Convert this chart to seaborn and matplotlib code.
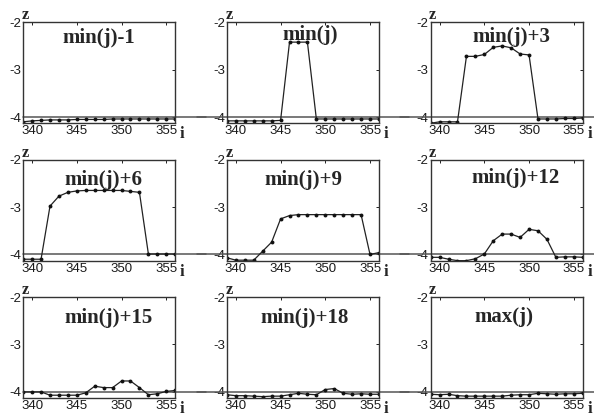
import numpy as np
import pandas as pd
import matplotlib
matplotlib.use("Agg")
import matplotlib.pyplot as plt
import seaborn as sns

# ---- data ----
i_vals = [339, 340, 341, 342, 343, 344, 345, 346, 347, 348, 349, 350, 351, 352, 353, 354, 355, 356]
titles = ["min(j)-1", "min(j)", "min(j)+3", "min(j)+6", "min(j)+9", "min(j)+12",
          "min(j)+15", "min(j)+18", "max(j)"]
z_m1 = [-4.10, -4.08, -4.07, -4.06, -4.06, -4.06, -4.05, -4.05, -4.05, -4.05, -4.04, -4.04, -4.04, -4.04, -4.04, -4.04, -4.04, -4.04]
z_0 = [-4.08, -4.08, -4.08, -4.08, -4.08, -4.08, -4.07, -2.42, -2.42, -2.42, -4.04, -4.04, -4.04, -4.04, -4.04, -4.04, -4.04, -4.04]
z_3 = [-4.13, -4.10, -4.10, -4.10, -2.72, -2.72, -2.68, -2.53, -2.50, -2.54, -2.67, -2.69, -4.04, -4.04, -4.04, -4.03, -4.03, -4.02]
z_6 = [-4.10, -4.10, -4.10, -2.98, -2.77, -2.69, -2.66, -2.65, -2.65, -2.65, -2.65, -2.65, -2.67, -2.69, -3.99, -3.99, -3.99, -3.99]
z_9 = [-4.07, -4.12, -4.12, -4.12, -3.93, -3.74, -3.25, -3.18, -3.16, -3.16, -3.16, -3.16, -3.16, -3.16, -3.16, -3.16, -4.00, -3.96]
z_12 = [-4.06, -4.06, -4.10, -4.13, -4.13, -4.09, -3.99, -3.71, -3.57, -3.57, -3.64, -3.47, -3.50, -3.68, -4.06, -4.05, -4.05, -4.06]
z_15 = [-4.00, -4.00, -4.00, -4.07, -4.07, -4.07, -4.07, -4.02, -3.88, -3.91, -3.91, -3.77, -3.77, -3.91, -4.06, -4.04, -3.99, -3.97]
z_18 = [-4.06, -4.08, -4.08, -4.09, -4.10, -4.09, -4.09, -4.06, -4.03, -4.05, -4.06, -3.95, -3.93, -4.03, -4.05, -4.04, -4.05, -4.05]
z_max = [-4.05, -4.06, -4.05, -4.08, -4.09, -4.09, -4.09, -4.09, -4.09, -4.07, -4.06, -4.06, -4.03, -4.04, -4.05, -4.04, -4.04, -4.03]
x_ticks = [340, 345, 350, 355]
y_ticks = [-2, -3, -4]
ref_level = -4

series = [z_m1, z_0, z_3, z_6, z_9, z_12, z_15, z_18, z_max]
df = pd.concat([pd.DataFrame({"i": i_vals, "z": s, "panel": t}) for s, t in zip(series, titles)],
               ignore_index=True)

# title anchor positions (axes fraction)
title_pos = [(0.50, 0.84), (0.55, 0.87), (0.53, 0.85),
             (0.53, 0.80), (0.50, 0.80), (0.56, 0.82),
             (0.56, 0.79), (0.51, 0.79), (0.48, 0.80)]

sns.set_style("white")
plt.rcParams["font.family"] = ["Liberation Sans", "DejaVu Sans"]

fig, axes = plt.subplots(3, 3, figsize=(5.94, 4.19), dpi=100)
fig.subplots_adjust(left=0.039, right=0.981, top=0.947, bottom=0.05, wspace=0.34, hspace=0.36)

serif = ["Liberation Serif", "DejaVu Serif"]
for k, ax in enumerate(axes.flat):
    sub = df[df["panel"] == titles[k]]
    sns.lineplot(data=sub, x="i", y="z", ax=ax, color="#222222", linewidth=0.9,
                 marker="o", markersize=2.8, markeredgewidth=0, markerfacecolor="#111111")
    ax.set_xlim(339, 356)
    ax.set_ylim(-4.13, -2)
    ax.set_xticks(x_ticks)
    ax.set_yticks(y_ticks)
    ax.set_xticklabels([str(v) for v in x_ticks])
    ax.set_yticklabels([str(v) for v in y_ticks])
    ax.tick_params(direction="in", length=2.5, width=0.7, top=True, right=True,
                   labelsize=9.5, pad=1.5, colors="#222222", labelcolor="#1a1a1a")
    ax.set_xlabel("")
    ax.set_ylabel("")
    for sp in ax.spines.values():
        sp.set_color("#333333")
        sp.set_linewidth(1.0)
    col = k % 3
    ax.axhline(ref_level, xmin=(0 if col == 0 else -0.2), xmax=(1.1 if col == 2 else 1.2),
               color="#555555", linewidth=1.1, clip_on=False, zorder=1)
    tx, ty = title_pos[k]
    ax.text(tx, ty, titles[k], transform=ax.transAxes, ha="center", va="center",
            fontsize=15, fontweight="bold", family=serif)
    ax.text(-0.01, 0.99, "z", transform=ax.transAxes, ha="left", va="bottom",
            fontsize=12, fontweight="bold", family=serif)
    ax.text(1.03, -0.03, "i", transform=ax.transAxes, ha="left", va="top",
            fontsize=12, fontweight="bold", family=serif)

fig.savefig("out.png", dpi=100)
